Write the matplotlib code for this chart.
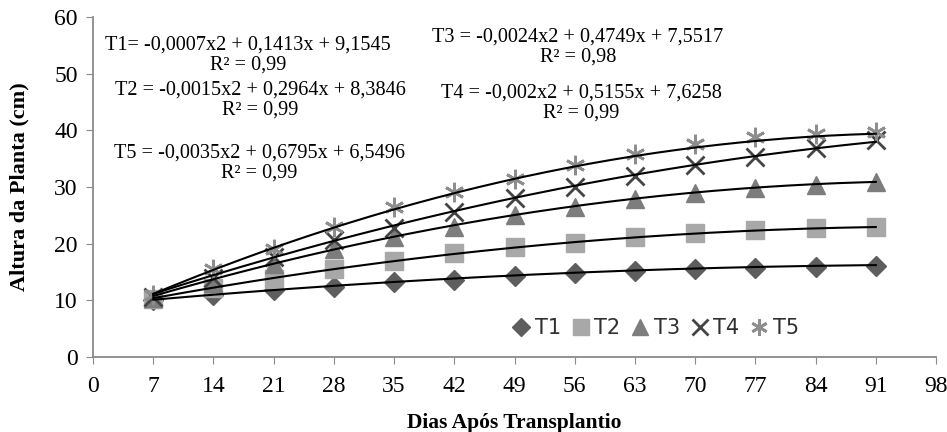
import numpy as np
import matplotlib
matplotlib.use("Agg")
import matplotlib.pyplot as plt

# days after transplant
dias = [7, 14, 21, 28, 35, 42, 49, 56, 63, 70, 77, 84, 91]

# plant height (cm)
t1 = [10.0, 10.9, 11.8, 12.4, 13.2, 13.6, 14.3, 14.9, 15.2, 15.5, 15.7, 15.9, 16.1]
t2 = [10.2, 12.2, 13.7, 15.5, 17.0, 18.3, 19.4, 20.2, 21.1, 21.8, 22.4, 22.8, 23.0]
t3 = [10.5, 13.0, 16.4, 19.0, 21.2, 23.0, 25.0, 26.5, 27.8, 28.9, 29.8, 30.4, 30.9]
t4 = [10.6, 14.0, 17.6, 20.6, 22.8, 25.6, 28.0, 30.0, 32.0, 33.9, 35.3, 36.8, 38.3]
t5 = [11.0, 15.6, 19.1, 22.9, 26.5, 29.1, 31.5, 33.9, 35.9, 37.6, 38.8, 39.4, 39.7]

# fitted polynomial coefficients (a, b, c) for y = a*x^2 + b*x + c
coef = {
    "T1": [-0.0007, 0.1413, 9.1545],
    "T2": [-0.0015, 0.2964, 8.3846],
    "T3": [-0.0024, 0.4749, 7.5517],
    "T4": [-0.002, 0.5155, 7.6258],
    "T5": [-0.0035, 0.6795, 6.5496],
}

# equation text and its centre in pixels
eq_labels = [
    ("T1= -0,0007x2 + 0,1413x + 9,1545\nR² = 0,99", 248, 55),
    ("T2 = -0,0015x2 + 0,2964x + 8,3846\nR² = 0,99", 260, 100),
    ("T5 = -0,0035x2 + 0,6795x + 6,5496\nR² = 0,99", 259, 163),
    ("T3 = -0,0024x2 + 0,4749x + 7,5517\nR² = 0,98", 578, 47),
    ("T4 = -0,002x2 + 0,5155x + 7,6258\nR² = 0,99", 581, 103),
]

plt.rcParams["font.family"] = ["Liberation Serif", "DejaVu Serif"]

fig = plt.figure(figsize=(9.47, 4.32), dpi=100)
ax = fig.add_axes([93 / 947, 1 - 357 / 432, (936 - 93) / 947, (357 - 17) / 432])

ax.plot(dias, t1, linestyle="none", marker="D", markersize=10.5, color="#5e5e5e", label="T1")
ax.plot(dias, t2, linestyle="none", marker="s", markersize=13, color="#a8a8a8", label="T2")
ax.plot(dias, t3, linestyle="none", marker="^", markersize=13, color="#7d7d7d", label="T3")
ax.plot(dias, t4, linestyle="none", marker="x", markersize=13, markeredgewidth=2,
        color="#444444", label="T4")
ax.plot(dias, t5, linestyle="none", marker=(6, 2, 0), markersize=14, markeredgewidth=2,
        color="#8e8e8e", label="T5")

xs = np.linspace(dias[0], dias[-1], 200)
for k in ["T1", "T2", "T3", "T4", "T5"]:
    ax.plot(xs, np.polyval(coef[k], xs), color="black", linewidth=1.5)

ax.set_xlim(0, 98)
ax.set_ylim(0, 60)
ax.set_xticks(range(0, 99, 7))
ax.set_yticks(range(0, 61, 10))

for s in ["top", "right"]:
    ax.spines[s].set_visible(False)
for s in ["left", "bottom"]:
    ax.spines[s].set_color("#8a8a8a")
    ax.spines[s].set_linewidth(1.3)
ax.tick_params(axis="both", direction="out", length=5, color="#8a8a8a", labelsize=17)
ax.tick_params(axis="x", pad=9)
ax.tick_params(axis="y", pad=6)

ax.set_ylabel("Altura da Planta (cm)", fontsize=16, fontweight="bold", labelpad=18)
ax.set_xlabel("Dias Após Transplantio", fontsize=15.5, fontweight="bold", labelpad=11)

leg = ax.legend(loc="center", bbox_to_anchor=((655 - 93) / 843, (357 - 328) / 340), ncol=5,
                frameon=False, handletextpad=0.15, columnspacing=0.45, handlelength=1.0,
                borderpad=0, prop={"family": "DejaVu Sans", "size": 15}, markerscale=0.85)
for t in leg.get_texts():
    t.set_color("#303030")

for txt, px, py in eq_labels:
    fig.text(px / 947, 1 - py / 432, txt, ha="center", va="center",
             multialignment="center", fontsize=14.6, linespacing=1.05)

fig.savefig("out.png", dpi=100)
